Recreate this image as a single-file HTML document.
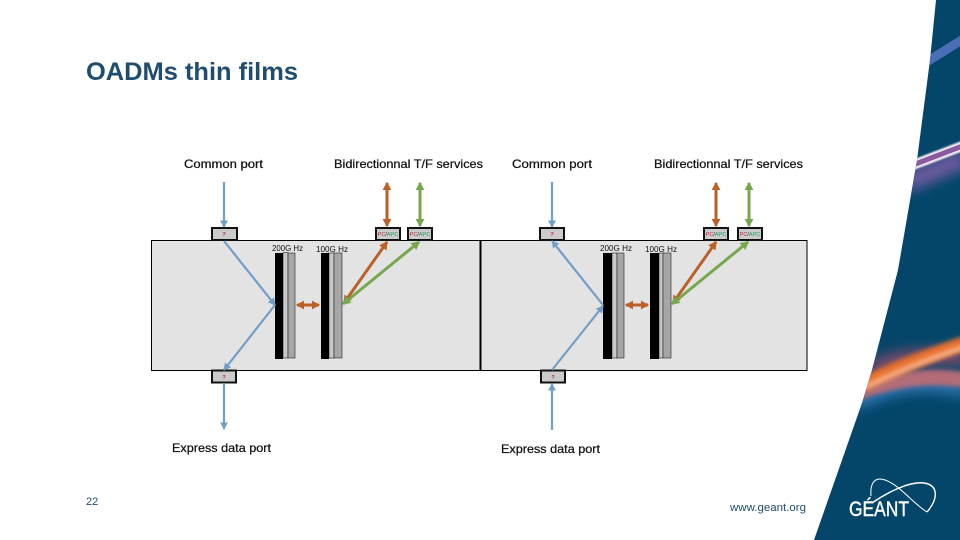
<!DOCTYPE html>
<html><head><meta charset="utf-8"><title>OADMs thin films</title>
<style>html,body{margin:0;padding:0;background:#fff}svg{display:block}text{font-family:"Liberation Sans",sans-serif}</style></head>
<body>
<svg width="960" height="540" viewBox="0 0 960 540" xmlns="http://www.w3.org/2000/svg">
<defs>
<clipPath id="bandClip"><path d="M936 0L930 60L917 160L898 270L872 370L862 403L814 540H960V0Z"/></clipPath>
<filter id="b2" x="-30%" y="-100%" width="160%" height="300%"><feGaussianBlur stdDeviation="2.500"/></filter>
<filter id="b6" x="-30%" y="-150%" width="160%" height="400%"><feGaussianBlur stdDeviation="6"/></filter>
<filter id="b1" x="-30%" y="-100%" width="160%" height="300%"><feGaussianBlur stdDeviation="0.800"/></filter>
<marker id="mb" markerWidth="4" markerHeight="4" refX="3" refY="2" orient="auto-start-reverse" markerUnits="strokeWidth"><path d="M0 0.200L3.400 2L0 3.800Z" fill="#6f9fc7"/></marker>
<marker id="mo" markerWidth="3" markerHeight="3" refX="2.400" refY="1.500" orient="auto-start-reverse" markerUnits="strokeWidth"><path d="M0 0L2.800 1.500L0 3Z" fill="#bb6128"/></marker>
<marker id="mg" markerWidth="3" markerHeight="3" refX="2.400" refY="1.500" orient="auto-start-reverse" markerUnits="strokeWidth"><path d="M0 0L2.800 1.500L0 3Z" fill="#75a84d"/></marker>
</defs>

<path d="M936 0L930 60L917 160L898 270L872 370L862 403L814 540H960V0Z" fill="#03466a"/>
<g clip-path="url(#bandClip)">
<path d="M920 66L965 38" stroke="#4a6fb4" stroke-width="9" fill="none"/>
<path d="M905 183L965 158" stroke="#6a5a9e" stroke-width="20" fill="none" filter="url(#b6)"/>
<path d="M905 168L965 145" stroke="#f1e8f1" stroke-width="10" fill="none" filter="url(#b1)"/>
<path d="M905 168L965 145" stroke="#8a5aa0" stroke-width="5" fill="none"/>
<path d="M855 398C895 376 930 376 965 384" stroke="#2f74b5" stroke-width="14" fill="none" filter="url(#b6)" transform="translate(0,6)"/>
<path d="M850 395C895 378 930 374 965 380" stroke="#b46d78" stroke-width="16" fill="none" filter="url(#b2)"/>
<path d="M870 370C900 355 930 355 965 358" stroke="#7d4a6b" stroke-width="16" fill="none" filter="url(#b6)"/>
<path d="M860 385C895 368 930 355 965 343" stroke="#e8702f" stroke-width="14" fill="none" filter="url(#b2)"/>
<path d="M865 387C895 373 930 358 965 347" stroke="#f6b48a" stroke-width="5" fill="none" filter="url(#b2)"/>
</g>

<text x="86" y="80" font-size="25" font-weight="bold" fill="#1f4d70" textLength="212" lengthAdjust="spacingAndGlyphs">OADMs thin films</text>

<rect x="151.500" y="240.500" width="329" height="130" fill="#e3e3e3" stroke="#000"/>
<rect x="480.500" y="240.500" width="326.500" height="130" fill="#e3e3e3" stroke="#000"/>
<rect x="479.500" y="240" width="2" height="131" fill="#000"/>

<g font-size="12" fill="#111" stroke="#111" stroke-width="0.250">
<text x="184" y="168" textLength="79" lengthAdjust="spacingAndGlyphs">Common port</text>
<text x="334" y="168" textLength="149" lengthAdjust="spacingAndGlyphs">Bidirectionnal T/F services</text>
<text x="512" y="168" textLength="80" lengthAdjust="spacingAndGlyphs">Common port</text>
<text x="654" y="168" textLength="149" lengthAdjust="spacingAndGlyphs">Bidirectionnal T/F services</text>
<text x="172" y="452" textLength="99" lengthAdjust="spacingAndGlyphs">Express data port</text>
<text x="501" y="453" textLength="99" lengthAdjust="spacingAndGlyphs">Express data port</text>
</g>
<g font-size="8.500" fill="#111">
<text x="272" y="251" textLength="31" lengthAdjust="spacingAndGlyphs">200G Hz</text>
<text x="316" y="252" textLength="32" lengthAdjust="spacingAndGlyphs">100G Hz</text>
<text x="600" y="251" textLength="32" lengthAdjust="spacingAndGlyphs">200G Hz</text>
<text x="645" y="252" textLength="32" lengthAdjust="spacingAndGlyphs">100G Hz</text>
</g>

<!-- filters -->
<g stroke="#222" stroke-width="0.600">
<rect x="283" y="252.500" width="5" height="105.500" fill="#c8c8c8"/>
<rect x="288" y="253" width="7" height="105" fill="#a6a6a6"/>
<rect x="329" y="253" width="5" height="105" fill="#c8c8c8"/>
<rect x="334" y="253" width="8" height="105" fill="#a6a6a6"/>
<rect x="612" y="253" width="5" height="105" fill="#c8c8c8"/>
<rect x="617" y="253" width="7" height="105" fill="#a6a6a6"/>
<rect x="659" y="253" width="4" height="105" fill="#c8c8c8"/>
<rect x="663" y="253" width="8" height="105" fill="#a6a6a6"/>
</g>
<g fill="#000">
<rect x="275" y="253" width="8" height="106"/>
<rect x="321" y="253" width="8" height="106"/>
<rect x="603" y="253" width="9" height="106"/>
<rect x="650" y="253" width="9" height="106"/>
</g>

<!-- ports -->
<g fill="#cbcbcb" stroke="#111" stroke-width="2">
<rect x="212" y="228" width="25" height="12"/>
<rect x="376" y="228" width="24" height="12"/>
<rect x="408" y="228" width="24" height="12"/>
<rect x="212" y="370.500" width="24" height="12"/>
<rect x="540" y="228" width="24" height="12"/>
<rect x="704" y="228" width="24" height="12"/>
<rect x="738" y="228" width="24" height="12"/>
<rect x="541" y="370.500" width="24" height="12"/>
</g>
<g font-size="5.500" text-anchor="middle">
<text x="224" y="236" fill="#c0203a" font-weight="bold">?</text>
<text x="224" y="379" fill="#c0203a" font-weight="bold">?</text>
<text x="552" y="236" fill="#c0203a" font-weight="bold">?</text>
<text x="553" y="379" fill="#c0203a" font-weight="bold">?</text>
<text x="388" y="236"><tspan fill="#c0203a">PC</tspan><tspan fill="#222">/</tspan><tspan fill="#1f9a5a">APC</tspan></text>
<text x="420" y="236"><tspan fill="#c0203a">PC</tspan><tspan fill="#222">/</tspan><tspan fill="#1f9a5a">APC</tspan></text>
<text x="716" y="236"><tspan fill="#c0203a">PC</tspan><tspan fill="#222">/</tspan><tspan fill="#1f9a5a">APC</tspan></text>
<text x="750" y="236"><tspan fill="#c0203a">PC</tspan><tspan fill="#222">/</tspan><tspan fill="#1f9a5a">APC</tspan></text>
</g>

<!-- blue connectors -->
<g stroke="#6f9fc7" stroke-width="2.200" fill="none">
<path d="M224 182V227" marker-end="url(#mb)"/>
<path d="M224 241L275 305" marker-end="url(#mb)"/>
<path d="M275 305L224 370" marker-end="url(#mb)"/>
<path d="M224 383V429" marker-end="url(#mb)"/>
<path d="M552 182V227" marker-end="url(#mb)"/>
<path d="M603 305L552 241" marker-end="url(#mb)"/>
<path d="M552 370L603 306" marker-end="url(#mb)"/>
<path d="M552 430V384" marker-end="url(#mb)"/>
</g>
<!-- orange connectors -->
<g stroke="#bb6128" stroke-width="3" fill="none">
<path d="M297 305H319" marker-start="url(#mo)" marker-end="url(#mo)"/>
<path d="M626 305H648" marker-start="url(#mo)" marker-end="url(#mo)"/>
<path d="M387 183V226" marker-start="url(#mo)" marker-end="url(#mo)"/>
<path d="M716 183V226" marker-start="url(#mo)" marker-end="url(#mo)"/>
<path d="M344 303L387 242" marker-start="url(#mo)" marker-end="url(#mo)"/>
<path d="M673 303L716 242" marker-start="url(#mo)" marker-end="url(#mo)"/>
</g>
<!-- green connectors -->
<g stroke="#75a84d" stroke-width="3" fill="none">
<path d="M420 183V226" marker-start="url(#mg)" marker-end="url(#mg)"/>
<path d="M749 183V226" marker-start="url(#mg)" marker-end="url(#mg)"/>
<path d="M343 304L419 242" marker-start="url(#mg)" marker-end="url(#mg)"/>
<path d="M672 304L748 242" marker-start="url(#mg)" marker-end="url(#mg)"/>
</g>

<text x="86" y="505" font-size="11" fill="#1f4d70">22</text>
<text x="730" y="511" font-size="11" fill="#1f4d70" textLength="76" lengthAdjust="spacingAndGlyphs">www.geant.org</text>

<!-- logo -->
<g fill="none" stroke="#fff">
<path d="M871 496C870 484 874 479 880 479C896 480 912 503 927 512" stroke-width="1"/>
<path d="M872 503C888 492 910 481 924 483C938 485 939 498 927 512" stroke-width="1.400"/>
</g>
<text x="849" y="516" font-size="21" fill="#fff" stroke="#fff" stroke-width="0.400" textLength="60" lengthAdjust="spacingAndGlyphs">GÉANT</text>
</svg>
</body></html>
